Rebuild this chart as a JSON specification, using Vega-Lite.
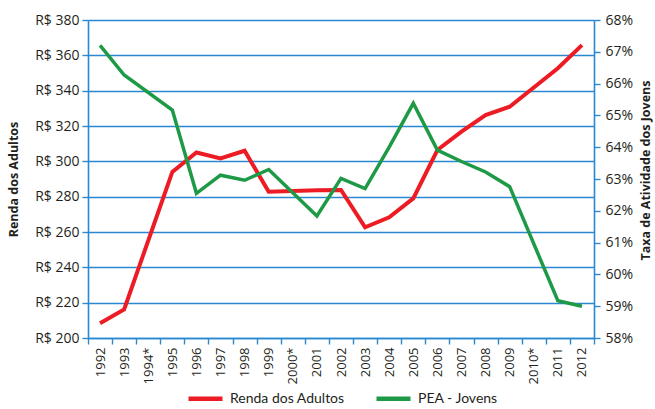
{
  "$schema": "https://vega.github.io/schema/vega-lite/v6.json",
  "width": 506,
  "height": 318,
  "autosize": "none",
  "padding": {"left": 88, "top": 20, "right": 61, "bottom": 71},
  "background": "white",
  "config": {
    "font": "Open Sans",
    "view": {"stroke": null},
    "axis": {
      "labelColor": "#231f20",
      "titleColor": "#231f20",
      "domainColor": "#2a88d0",
      "tickColor": "#2a88d0",
      "gridColor": "#2a88d0",
      "domainWidth": 1.6,
      "tickWidth": 1.4,
      "gridWidth": 1.4,
      "gridOpacity": 1,
      "tickSize": 6
    }
  },
  "datasets": {
    "renda": [
      {"year": "1992", "value": 208.3},
      {"year": "1993", "value": 216.2},
      {"year": "1995", "value": 294.0},
      {"year": "1996", "value": 305.0},
      {"year": "1997", "value": 301.7},
      {"year": "1998", "value": 306.0},
      {"year": "1999", "value": 282.8},
      {"year": "2001", "value": 283.7},
      {"year": "2002", "value": 283.8},
      {"year": "2003", "value": 262.7},
      {"year": "2004", "value": 268.3},
      {"year": "2005", "value": 279.0},
      {"year": "2006", "value": 306.4},
      {"year": "2007", "value": 316.8},
      {"year": "2008", "value": 326.2},
      {"year": "2009", "value": 330.9},
      {"year": "2011", "value": 352.7},
      {"year": "2012", "value": 365.8}
    ],
    "pea": [
      {"year": "1992", "value": 67.2},
      {"year": "1993", "value": 66.27},
      {"year": "1995", "value": 65.17},
      {"year": "1996", "value": 62.55},
      {"year": "1997", "value": 63.12},
      {"year": "1998", "value": 62.96},
      {"year": "1999", "value": 63.3},
      {"year": "2001", "value": 61.84},
      {"year": "2002", "value": 63.02},
      {"year": "2003", "value": 62.7},
      {"year": "2004", "value": 64.0},
      {"year": "2005", "value": 65.38},
      {"year": "2006", "value": 63.91},
      {"year": "2007", "value": 63.55},
      {"year": "2008", "value": 63.22},
      {"year": "2009", "value": 62.76},
      {"year": "2011", "value": 59.17},
      {"year": "2012", "value": 59.0}
    ]
  },
  "encoding": {
    "x": {
      "field": "year",
      "type": "ordinal",
      "scale": {
        "type": "band",
        "domain": ["1992","1993","1994*","1995","1996","1997","1998","1999","2000*","2001","2002","2003","2004","2005","2006","2007","2008","2009","2010*","2011","2012"],
        "paddingInner": 0,
        "paddingOuter": 0
      },
      "axis": {
        "title": null,
        "labelAngle": -90,
        "labelFontSize": 13,
        "labelPadding": 3,
        "tickBand": "extent",
        "grid": false
      }
    }
  },
  "layer": [
    {
      "data": {"name": "renda"},
      "mark": {"type": "line", "strokeWidth": 4, "strokeJoin": "miter"},
      "encoding": {
        "y": {
          "field": "value",
          "type": "quantitative",
          "scale": {"domain": [200, 380], "zero": false, "nice": false},
          "axis": {
            "orient": "left",
            "values": [200, 220, 240, 260, 280, 300, 320, 340, 360, 380],
            "labelExpr": "'R$ ' + datum.value",
            "labelFontSize": 14,
            "labelPadding": 3,
            "grid": true,
            "title": "Renda dos Adultos",
            "titleFontSize": 12.5,
            "titleFontWeight": "bold",
            "titleX": -68,
            "titleY": 159
          }
        },
        "color": {
          "datum": "Renda dos Adultos",
          "type": "nominal",
          "scale": {"domain": ["Renda dos Adultos", "PEA - Jovens"], "range": ["#ed1c24", "#1e9a47"]},
          "legend": {
            "title": null,
            "orient": "none",
            "legendX": 98,
            "legendY": 359,
            "direction": "horizontal",
            "symbolType": "stroke",
            "symbolStrokeWidth": 4.5,
            "symbolSize": 1156,
            "labelFont": "Lato",
            "labelFontSize": 14,
            "labelColor": "#231f20",
            "labelOffset": 5,
            "columnPadding": 22
          }
        }
      }
    },
    {
      "data": {"name": "pea"},
      "mark": {"type": "line", "strokeWidth": 3.5, "strokeJoin": "miter"},
      "encoding": {
        "y": {
          "field": "value",
          "type": "quantitative",
          "scale": {"domain": [58, 68], "zero": false, "nice": false},
          "axis": {
            "orient": "right",
            "values": [58, 59, 60, 61, 62, 63, 64, 65, 66, 67, 68],
            "labelExpr": "datum.value + '%'",
            "labelFontSize": 14,
            "labelPadding": 5,
            "grid": false,
            "title": "Taxa de Atividade dos Jovens",
            "titleFontSize": 12.5,
            "titleFontWeight": "bold",
            "titleAngle": -90,
            "titleX": 58,
            "titleY": 150
          }
        },
        "color": {"datum": "PEA - Jovens", "type": "nominal"}
      }
    }
  ],
  "resolve": {"scale": {"y": "independent"}}
}
